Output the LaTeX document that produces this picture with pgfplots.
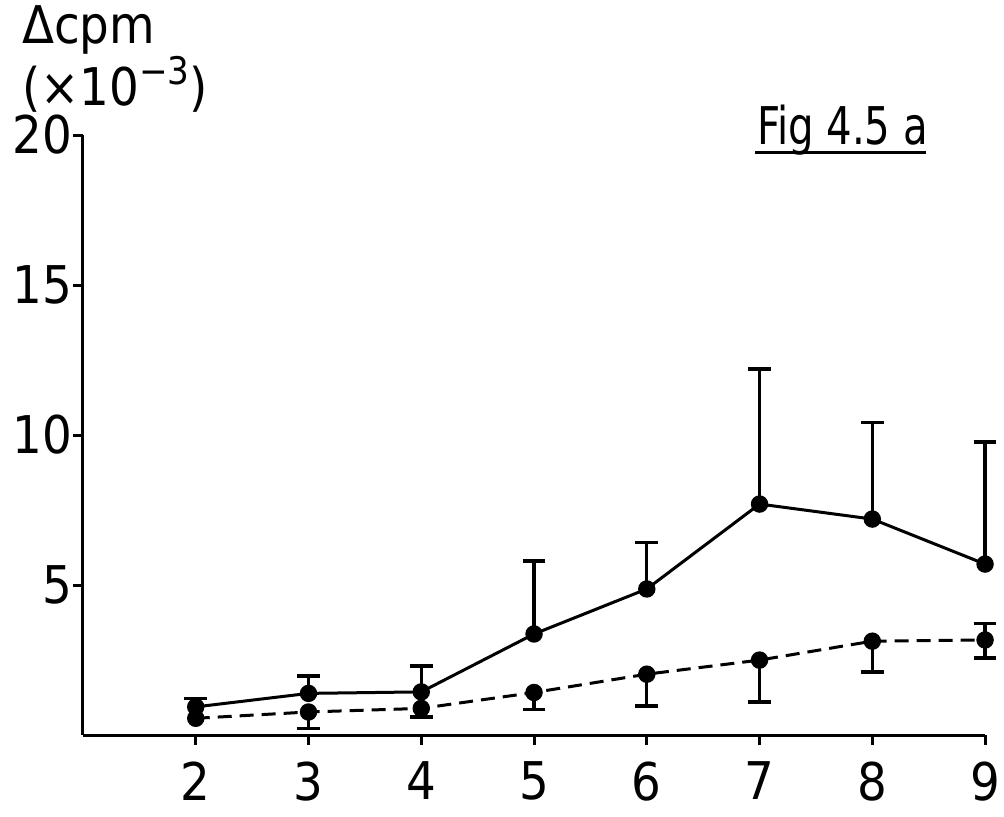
\documentclass[border=0pt]{standalone}
\usepackage{pgfplots}
\pgfplotsset{compat=1.18}
\usepackage{fontspec}
\setmainfont{DejaVu Sans Condensed}
\begin{document}
\begin{tikzpicture}
\begin{axis}[
  scale only axis, width=451pt, height=300pt,
  xmin=1, xmax=9, ymin=0, ymax=20,
  axis lines*=left,
  axis line style={line width=1.5pt},
  clip=false,
  xtick={2,3,4,5,6,7,8,9},
  ytick={5,10,15,20},
  tick align=outside,
  major tick length=5pt,
  tick style={line width=1.5pt, black},
  ticklabel style={font=\fontsize{26}{30}\selectfont},
  /pgf/number format/assume math mode=true,
  xticklabel style={inner sep=0pt, yshift=-8pt},
  yticklabel style={xshift=3pt},
]
% invisible frame for the page size
\path (rel axis cs:-0.092,-0.135) rectangle (rel axis cs:1.021,1.225);

% solid series
\addplot[black, line width=1.5pt, mark=*, mark size=3.6pt] coordinates {
 (2,0.94) (3,1.39) (4,1.44) (5,3.37) (6,4.87) (7,7.7) (8,7.2) (9,5.7)};
\addplot[black, forget plot, only marks, mark=none,
  error bars/.cd, y dir=plus, y explicit,
  error bar style={line width=1.6pt},
  error mark options={rotate=90, mark size=5.7pt, line width=1.6pt}]
 coordinates {
 (2,0.94) +- (0,0.29)
 (3,1.39) +- (0,0.58)
 (4,1.44) +- (0,0.86)
 (5,3.37) +- (0,2.43)
 (6,4.87) +- (0,1.56)
 (7,7.7) +- (0,4.5)
 (8,7.2) +- (0,3.23)
 (9,5.7) +- (0,4.07)};

% dashed series
\addplot[black, line width=1.5pt, dash pattern=on 7pt off 4pt, mark=*, mark size=3.6pt, mark options={solid}] coordinates {
 (2,0.56) (3,0.77) (4,0.89) (5,1.42) (6,2.03) (7,2.5) (8,3.13) (9,3.17)};
\addplot[black, forget plot, only marks, mark=none,
  error bars/.cd, y dir=minus, y explicit,
  error bar style={line width=1.6pt, solid},
  error mark options={rotate=90, mark size=5.7pt, line width=1.6pt, solid}]
 coordinates {
 (3,0.77) +- (0,0.54)
 (4,0.89) +- (0,0.29)
 (5,1.42) +- (0,0.58)
 (6,2.03) +- (0,1.06)
 (7,2.5) +- (0,1.4)
 (8,3.13) +- (0,1.03)
 (9,3.17) +- (0,0.6)};
\addplot[black, forget plot, only marks, mark=none,
  error bars/.cd, y dir=plus, y explicit,
  error bar style={line width=1.6pt, solid},
  error mark options={rotate=90, mark size=5.7pt, line width=1.6pt, solid}]
 coordinates {(9,3.17) +- (0,0.56)};

% y label
\node[anchor=north west, align=left, inner sep=0pt, font=\fontsize{26}{27.5}\selectfont]
  at (rel axis cs:-0.068,1.217) {Δcpm\\(×10\raisebox{0.42em}{\fontsize{19}{20}\selectfont −3})};

% figure tag
\node[anchor=base west, inner sep=0pt, font=\fontsize{26}{30}\selectfont]
  at (rel axis cs:0.747,0.985) {\scalebox{0.86}[1]{Fig 4.5 a}};
\draw[line width=1.6pt] (rel axis cs:0.745,0.971) -- (rel axis cs:0.934,0.971);
\end{axis}
\end{tikzpicture}
\end{document}
